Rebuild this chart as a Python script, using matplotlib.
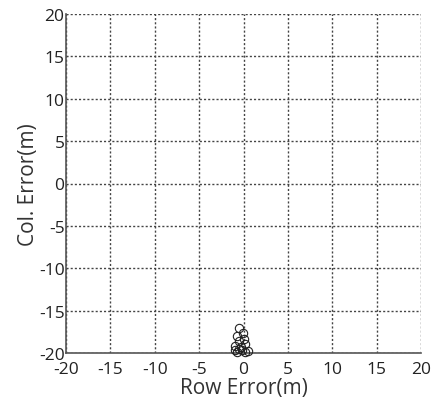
import matplotlib
matplotlib.use("Agg")
import matplotlib.pyplot as plt

# error points (m)
row_err = [-0.47, -0.1, -0.7, 0.0, -0.47, 0.13, -0.92, -0.3, -1.0, 0.5, -0.7, 0.2, -0.2, -0.55]
col_err = [-17.1, -17.6, -18.0, -18.35, -18.6, -18.9, -19.2, -19.3, -19.7, -19.8, -19.9, -19.85, -19.6, -19.5]

ticks = list(range(-20, 21, 5))

plt.rcParams['font.family'] = ['Open Sans', 'DejaVu Sans']
plt.rcParams['axes.unicode_minus'] = False

fig = plt.figure(figsize=(4.33, 4.06), dpi=100)
ax = fig.add_axes([66 / 433, 1 - 354 / 406, 355 / 433, 339 / 406])

ax.plot(row_err, col_err, 'o', mfc='none', mec='#222222', ms=6, mew=0.8, clip_on=False, zorder=3)

ax.set_xlim(-20, 20)
ax.set_ylim(-20, 20)
ax.set_xticks(ticks)
ax.set_yticks(ticks)
ax.grid(True, linestyle=(0, (1.5, 1.5)), color='#444444', linewidth=1.0)
ax.tick_params(length=0, labelsize=12.5, colors='#222222')
ax.tick_params(axis='x', pad=6)
ax.tick_params(axis='y', pad=1)

for s in ['top', 'right']:
    ax.spines[s].set_visible(False)
for s in ['left', 'bottom']:
    ax.spines[s].set_color('#555555')
    ax.spines[s].set_linewidth(1.2)

ax.set_xlabel('Row Error(m)', fontsize=15, color='#333333', labelpad=0)
ax.set_ylabel('Col. Error(m)', fontsize=15, color='#333333', labelpad=0)

fig.savefig('out.png', dpi=100)
